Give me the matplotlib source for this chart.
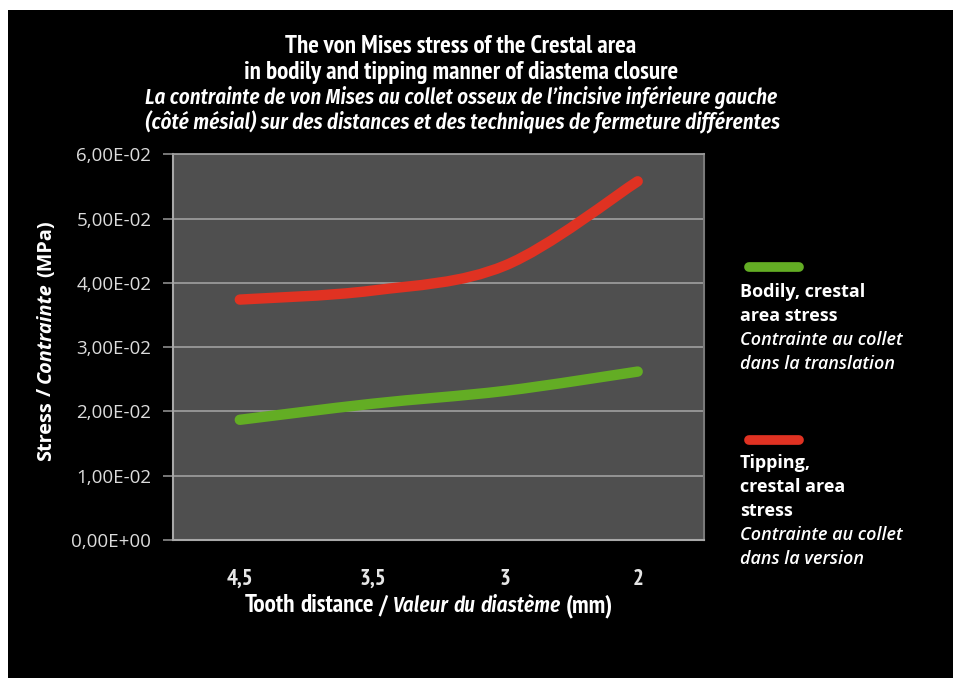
import matplotlib
matplotlib.use("Agg")
import matplotlib.pyplot as plt
from matplotlib.path import Path
from matplotlib.patches import PathPatch, Rectangle
from matplotlib.ticker import FixedLocator
import numpy as np

# ---- data ----
categories = ["4,5", "3,5", "3", "2"]
bodily = [0.0187, 0.0212, 0.0232, 0.0262]
tipping = [0.0374, 0.0388, 0.0427, 0.0558]
y_ticks = [0.0, 0.01, 0.02, 0.03, 0.04, 0.05, 0.06]
y_tick_labels = ["0,00E+00", "1,00E-02", "2,00E-02", "3,00E-02", "4,00E-02", "5,00E-02", "6,00E-02"]
title_lines = ["The von Mises stress of the Crestal area",
               "in bodily and tipping manner of diastema closure",
               "La contrainte de von Mises au collet osseux de l\u2019incisive inférieure gauche",
               " (côté mésial) sur des distances et des techniques de fermeture différentes"]
legend_bodily = ["Bodily, crestal", "area stress", "Contrainte au collet", "dans la translation"]
legend_tipping = ["Tipping,", "crestal area", "stress", "Contrainte au collet", "dans la version"]

W, H = 954, 678
RED = "#e03222"
GREEN = "#63ad24"
NARROW = ["PT Sans Narrow", "DejaVu Sans"]
NARROW_IT = ["Fira Sans Condensed", "DejaVu Sans"]
WIDE = ["Open Sans", "DejaVu Sans"]

fig = plt.figure(figsize=(W / 100, H / 100), dpi=100, facecolor="white")
fig.patches.append(Rectangle((8 / W, 0), 1, (H - 10) / H, transform=fig.transFigure,
                             facecolor="black", edgecolor="none", zorder=-10))

def px(x, y):
    return x / W, 1 - y / H

L, T, R, B = 173.5, 154.3, 704, 540
ax = fig.add_axes([L / W, 1 - B / H, (R - L) / W, (B - T) / H])
ax.set_facecolor("#4f4f4f")
xs = np.arange(len(categories))
ax.set_xlim(-0.5, len(categories) - 0.5)
ax.set_ylim(y_ticks[0], y_ticks[-1])
ax.yaxis.set_major_locator(FixedLocator(y_ticks))
ax.set_yticklabels(y_tick_labels, fontfamily=WIDE, fontsize=13.5, color="#dcdcdc")
ax.set_xticks(xs)
ax.set_xticklabels(categories, fontfamily=NARROW, fontsize=16.5, fontweight="bold", color="#e6e6e6")
ax.tick_params(axis="y", length=7, width=1.2, color="#8c8c8c", pad=9)
ax.tick_params(axis="x", length=0, pad=21)
ax.grid(axis="y", color="#9a9a9a", linewidth=1.3)
ax.set_axisbelow(True)
for s in ["left", "bottom"]:
    ax.spines[s].set_color("#a8a8a8")
    ax.spines[s].set_linewidth(1.5)
ax.spines["top"].set_color("#9a9a9a")
ax.spines["top"].set_linewidth(1.3)
ax.spines["right"].set_color("#7a7a7a")
ax.spines["right"].set_linewidth(1.5)

def smooth_path(xv, yv):
    pts = np.column_stack([xv, yv]).astype(float)
    n = len(pts)
    verts = [pts[0]]
    codes = [Path.MOVETO]
    for i in range(n - 1):
        p0 = pts[i - 1] if i > 0 else pts[i]
        p1 = pts[i]
        p2 = pts[i + 1]
        p3 = pts[i + 2] if i + 2 < n else pts[i + 1]
        c1 = p1 + (p2 - p0) / 6.0
        c2 = p2 - (p3 - p1) / 6.0
        verts += [c1, c2, p2]
        codes += [Path.CURVE4] * 3
    return Path(verts, codes)

for vals, col in [(bodily, GREEN), (tipping, RED)]:
    patch = PathPatch(smooth_path(xs, vals), facecolor="none", edgecolor=col,
                      linewidth=7.5, capstyle="round", joinstyle="round", zorder=3)
    ax.add_patch(patch)

fig.canvas.draw()
renderer = fig.canvas.get_renderer()

def measure(s, **kw):
    t = fig.text(0, 0, s, **kw)
    w = t.get_window_extent(renderer).width
    t.remove()
    return w

# ---- title (font size fitted to the reference line widths) ----
up_kw = dict(fontfamily=NARROW, fontweight="bold", fontstyle="normal")
it_kw = dict(fontfamily=NARROW_IT, fontweight="semibold", fontstyle="italic")
fs_up = 16 * 351 / measure(title_lines[0], fontsize=16, **up_kw)
fs_it = 16 * 633 / measure(title_lines[2], fontsize=16, **it_kw)
it_ratio = fs_it / fs_up
title_y = [53, 79, 104, 129]
for i, (line, yy) in enumerate(zip(title_lines, title_y)):
    kw = up_kw if i < 2 else it_kw
    fs = fs_up if i < 2 else fs_it
    fig.text(*px(461, yy), line, ha="center", va="baseline", color="white",
             fontsize=fs, **kw)

# ---- mixed-style axis labels ----
def mixed(pieces, cx, cy, rotation=0, fontsize=14, fams=(NARROW, NARROW_IT), ratio=1.0,
          target=None):
    def layout(fsz):
        base = dict(fontweight="bold", color="white")
        sp = measure("a a", fontfamily=fams[0], fontsize=fsz, **base) - \
            measure("aa", fontfamily=fams[0], fontsize=fsz, **base)
        items = []
        for s, style in pieces:
            fam = fams[0] if style == "normal" else fams[1]
            f = fsz if style == "normal" else fsz * ratio
            wt = "bold" if style == "normal" else ("semibold" if fams[1] is NARROW_IT else "bold")
            kw = dict(fontstyle=style, fontfamily=fam, fontsize=f, fontweight=wt, color="white")
            items.append((s, kw, measure(s, **kw)))
        total = sum(w for _, _, w in items) + sp * (len(items) - 1)
        return items, sp, total
    items, sp, total = layout(fontsize)
    if target:
        items, sp, total = layout(fontsize * target / total)
    pos = -total / 2
    for s, kw, w in items:
        if rotation == 0:
            x, y = cx + pos, cy
            fig.text(x / W, 1 - y / H, s, ha="left", va="baseline", **kw)
        else:
            x, y = cx, cy - pos
            fig.text(x / W, 1 - y / H, s, ha="left", va="baseline", rotation=90,
                     rotation_mode="anchor", **kw)
        pos += w + sp

mixed([("Tooth", "normal"), ("distance", "normal"), ("/", "normal"), ("Valeur", "italic"),
       ("du", "italic"), ("diastème", "italic"), ("(mm)", "normal")], 429, 612, fontsize=16,
      ratio=it_ratio, target=368)
mixed([("Stress", "normal"), ("/", "normal"), ("Contrainte", "italic"), ("(MPa)", "normal")],
      51, 341, rotation=90, fontsize=14, fams=(WIDE, WIDE), target=242)

# ---- legend ----
for yy, col in [(267, GREEN), (440, RED)]:
    fig.add_artist(plt.Line2D([749 / W, 799 / W], [1 - yy / H, 1 - yy / H], color=col,
                              linewidth=7, solid_capstyle="round", transform=fig.transFigure))

def legend_block(lines, y0, n_bold):
    for i, s in enumerate(lines):
        fig.text(*px(740, y0 + 24 * i), s, ha="left", va="baseline", color="white",
                 fontfamily=WIDE, fontsize=13,
                 fontweight="bold" if i < n_bold else "semibold",
                 fontstyle="normal" if i < n_bold else "italic")

legend_block(legend_bodily, 297, 2)
legend_block(legend_tipping, 468, 3)

fig.savefig("out.png", dpi=100, facecolor="white")
